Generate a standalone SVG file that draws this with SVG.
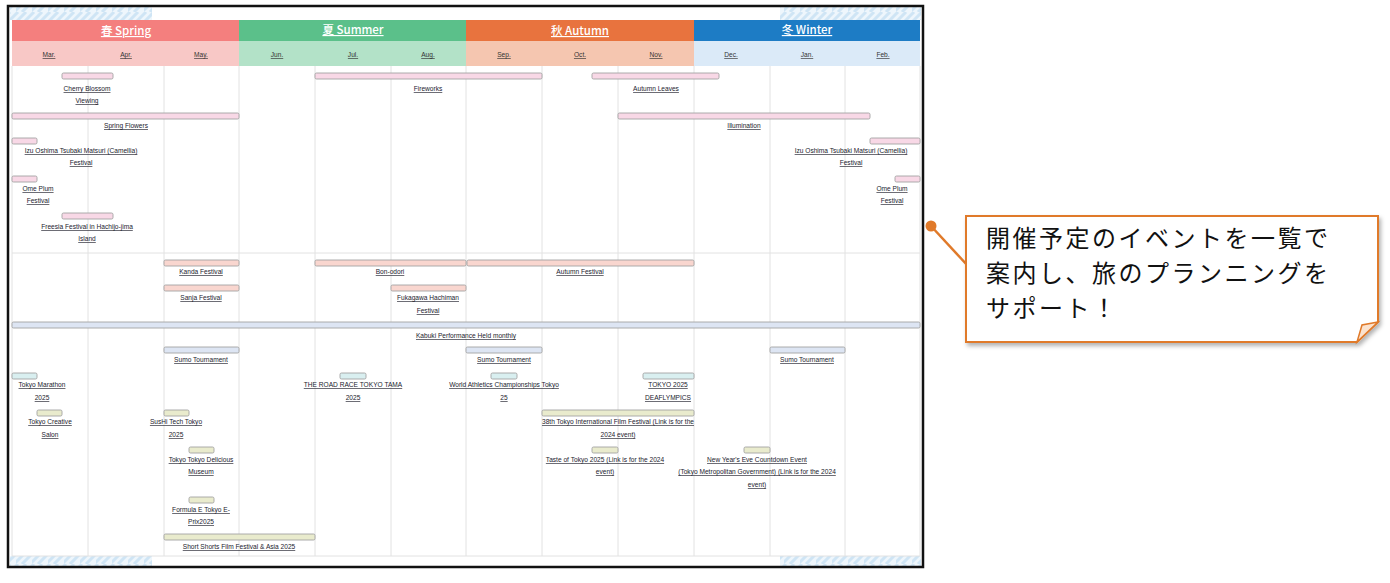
<svg xmlns="http://www.w3.org/2000/svg" width="1390" height="583" viewBox="0 0 1390 583">
<style>
.t{font-family:"Liberation Sans",Arial,sans-serif;font-size:6.6px;fill:#22222e;text-anchor:middle;text-decoration:underline}
.m{font-family:"Liberation Sans",Arial,sans-serif;font-size:6.6px;fill:#333333;text-anchor:middle;text-decoration:underline}
.s{font-family:"Noto Sans CJK JP","Liberation Sans",sans-serif;font-size:11.5px;fill:#ffffff;text-anchor:middle;text-decoration:underline;font-weight:500}
.g{stroke:#e2e2e2;stroke-width:1}
.b{stroke:#a3a3a3;stroke-width:0.9}
.pk{fill:#f8d8e6}
.sa{fill:#f9d6cf}
.bl{fill:#dde5f3}
.cy{fill:#d9eff0}
.be{fill:#e9ebcd}
.ct{font-family:"Noto Sans CJK JP","Noto Sans CJK SC",sans-serif;font-size:24px;letter-spacing:2.5px;fill:#111}
</style>
<defs>
<pattern id="wave" width="16" height="12" patternUnits="userSpaceOnUse">
<rect width="16" height="12" fill="#eef6fc"/>
<path d="M-2,12 L10,0 M6,12 L18,0 M-10,12 L2,0" stroke="#cfe5f5" stroke-width="3"/>
</pattern>
<filter id="sh" x="-5%" y="-5%" width="115%" height="125%">
<feDropShadow dx="2" dy="3" stdDeviation="2" flood-color="#000" flood-opacity="0.3"/>
</filter>
</defs>
<rect width="1390" height="583" fill="#ffffff"/>

<g id="chart">
<rect x="8" y="6" width="915" height="561" fill="#ffffff"/>
<rect x="10" y="7" width="142" height="13" fill="url(#wave)"/>
<rect x="780" y="7" width="141" height="13" fill="url(#wave)"/>
<rect x="10" y="556" width="142" height="10" fill="url(#wave)"/>
<rect x="780" y="556" width="141" height="10" fill="url(#wave)"/>
<g id="seasons">
<rect x="12" y="20" width="227" height="21" fill="#f47f7e"/>
<rect x="239" y="20" width="227" height="21" fill="#5bc08a"/>
<rect x="466" y="20" width="228" height="21" fill="#e8733e"/>
<rect x="694" y="20" width="226" height="21" fill="#1d7cc5"/>
<text class="s" x="126" y="35">春 Spring</text>
<text class="s" x="353" y="34">夏 Summer</text>
<text class="s" x="580" y="35">秋 Autumn</text>
<text class="s" x="807" y="34">冬 Winter</text>
</g>
<g id="months">
<rect x="12" y="41" width="227" height="25" fill="#f8c8c6"/>
<rect x="239" y="41" width="227" height="25" fill="#b3e2c8"/>
<rect x="466" y="41" width="228" height="25" fill="#f5c6b0"/>
<rect x="694" y="41" width="226" height="25" fill="#dbeaf8"/>
<text class="m" x="49" y="57">Mar.</text>
<text class="m" x="126" y="57">Apr.</text>
<text class="m" x="201" y="57">May.</text>
<text class="m" x="277" y="57">Jun.</text>
<text class="m" x="353" y="57">Jul.</text>
<text class="m" x="428" y="57">Aug.</text>
<text class="m" x="504" y="57">Sep.</text>
<text class="m" x="580" y="57">Oct.</text>
<text class="m" x="656" y="57">Nov.</text>
<text class="m" x="731" y="57">Dec.</text>
<text class="m" x="807" y="57">Jan.</text>
<text class="m" x="883" y="57">Feb.</text>
</g>
<g id="grid">
<line class="g" x1="12" y1="66" x2="12" y2="556"/>
<line class="g" x1="88" y1="66" x2="88" y2="556"/>
<line class="g" x1="164" y1="66" x2="164" y2="556"/>
<line class="g" x1="239" y1="66" x2="239" y2="556"/>
<line class="g" x1="315" y1="66" x2="315" y2="556"/>
<line class="g" x1="391" y1="66" x2="391" y2="556"/>
<line class="g" x1="466" y1="66" x2="466" y2="556"/>
<line class="g" x1="542" y1="66" x2="542" y2="556"/>
<line class="g" x1="618" y1="66" x2="618" y2="556"/>
<line class="g" x1="694" y1="66" x2="694" y2="556"/>
<line class="g" x1="770" y1="66" x2="770" y2="556"/>
<line class="g" x1="845" y1="66" x2="845" y2="556"/>
<line class="g" x1="920" y1="66" x2="920" y2="556"/>
<line class="g" x1="12" y1="253" x2="920" y2="253"/>
<line class="g" x1="12" y1="556" x2="920" y2="556"/>
</g>
<rect x="8" y="6" width="915" height="561" fill="none" stroke="#111" stroke-width="2.5"/>
</g>

<g id="ev-cherry"><rect class="pk b" x="62" y="73" width="51" height="6" rx="1.5"/><text class="t" x="87" y="91">Cherry Blossom</text><text class="t" x="87" y="103">Viewing</text></g>
<g id="ev-fireworks"><rect class="pk b" x="315" y="73" width="227" height="6" rx="1.5"/><text class="t" x="428" y="91">Fireworks</text></g>
<g id="ev-autumn-leaves"><rect class="pk b" x="592" y="73" width="127" height="6" rx="1.5"/><text class="t" x="656" y="91">Autumn Leaves</text></g>
<g id="ev-spring-flowers"><rect class="pk b" x="12" y="113" width="227" height="6" rx="1.5"/><text class="t" x="126" y="128">Spring Flowers</text></g>
<g id="ev-illumination"><rect class="pk b" x="618" y="113" width="252" height="6" rx="1.5"/><text class="t" x="744" y="128">Illumination</text></g>
<g id="ev-izu-1"><rect class="pk b" x="12" y="138" width="25" height="6" rx="1.5"/><text class="t" x="81" y="153">Izu Oshima Tsubaki Matsuri (Camellia)</text><text class="t" x="81" y="165">Festival</text></g>
<g id="ev-izu-2"><rect class="pk b" x="870" y="138" width="50" height="6" rx="1.5"/><text class="t" x="851" y="153">Izu Oshima Tsubaki Matsuri (Camellia)</text><text class="t" x="851" y="165">Festival</text></g>
<g id="ev-ome-1"><rect class="pk b" x="12" y="176" width="25" height="6" rx="1.5"/><text class="t" x="38" y="191">Ome Plum</text><text class="t" x="38" y="203">Festival</text></g>
<g id="ev-ome-2"><rect class="pk b" x="895" y="176" width="25" height="6" rx="1.5"/><text class="t" x="892" y="191">Ome Plum</text><text class="t" x="892" y="203">Festival</text></g>
<g id="ev-freesia"><rect class="pk b" x="62" y="213" width="51" height="6" rx="1.5"/><text class="t" x="87" y="229">Freesia Festival in Hachijo-jima</text><text class="t" x="87" y="241">Island</text></g>

<g id="ev-kanda"><rect class="sa b" x="164" y="260" width="75" height="6" rx="1.5"/><text class="t" x="201" y="274">Kanda Festival</text></g>
<g id="ev-bon"><rect class="sa b" x="315" y="260" width="151" height="6" rx="1.5"/><text class="t" x="390" y="274">Bon-odori</text></g>
<g id="ev-autumn-fest"><rect class="sa b" x="467" y="260" width="227" height="6" rx="1.5"/><text class="t" x="580" y="274">Autumn Festival</text></g>
<g id="ev-sanja"><rect class="sa b" x="164" y="285" width="75" height="6" rx="1.5"/><text class="t" x="201" y="300">Sanja Festival</text></g>
<g id="ev-fukagawa"><rect class="sa b" x="391" y="285" width="75" height="6" rx="1.5"/><text class="t" x="428" y="300">Fukagawa Hachiman</text><text class="t" x="428" y="313">Festival</text></g>

<g id="ev-kabuki"><rect class="bl b" x="12" y="322" width="908" height="6" rx="1.5"/><text class="t" x="466" y="338">Kabuki Performance Held monthly</text></g>
<g id="ev-sumo-1"><rect class="bl b" x="164" y="347" width="75" height="6" rx="1.5"/><text class="t" x="201" y="362">Sumo Tournament</text></g>
<g id="ev-sumo-2"><rect class="bl b" x="466" y="347" width="76" height="6" rx="1.5"/><text class="t" x="504" y="362">Sumo Tournament</text></g>
<g id="ev-sumo-3"><rect class="bl b" x="770" y="347" width="75" height="6" rx="1.5"/><text class="t" x="807" y="362">Sumo Tournament</text></g>
<g id="ev-marathon"><rect class="cy b" x="12" y="373" width="25" height="6" rx="1.5"/><text class="t" x="42" y="387">Tokyo Marathon</text><text class="t" x="42" y="400">2025</text></g>
<g id="ev-roadrace"><rect class="cy b" x="340" y="373" width="26" height="6" rx="1.5"/><text class="t" x="353" y="387">THE ROAD RACE TOKYO TAMA</text><text class="t" x="353" y="400">2025</text></g>
<g id="ev-athletics"><rect class="cy b" x="491" y="373" width="26" height="6" rx="1.5"/><text class="t" x="504" y="387">World Athletics Championships Tokyo</text><text class="t" x="504" y="400">25</text></g>
<g id="ev-deaflympics"><rect class="cy b" x="643" y="373" width="51" height="6" rx="1.5"/><text class="t" x="668" y="387">TOKYO 2025</text><text class="t" x="668" y="400">DEAFLYMPICS</text></g>
<g id="ev-creative"><rect class="be b" x="37" y="410" width="25" height="6" rx="1.5"/><text class="t" x="50" y="424">Tokyo Creative</text><text class="t" x="50" y="437">Salon</text></g>
<g id="ev-sushitech"><rect class="be b" x="164" y="410" width="25" height="6" rx="1.5"/><text class="t" x="176" y="424">SusHi Tech Tokyo</text><text class="t" x="176" y="437">2025</text></g>
<g id="ev-tiff"><rect class="be b" x="542" y="410" width="152" height="6" rx="1.5"/><text class="t" x="618" y="424">38th Tokyo International Film Festival (Link is for the</text><text class="t" x="618" y="437">2024 event)</text></g>
<g id="ev-delicious"><rect class="be b" x="189" y="447" width="25" height="6" rx="1.5"/><text class="t" x="201" y="462">Tokyo Tokyo Delicious</text><text class="t" x="201" y="474">Museum</text></g>
<g id="ev-taste"><rect class="be b" x="592" y="447" width="26" height="6" rx="1.5"/><text class="t" x="605" y="462">Taste of Tokyo 2025 (Link is for the 2024</text><text class="t" x="605" y="474">event)</text></g>
<g id="ev-newyear"><rect class="be b" x="744" y="447" width="26" height="6" rx="1.5"/><text class="t" x="757" y="462">New Year's Eve Countdown Event</text><text class="t" x="757" y="474">(Tokyo Metropolitan Government) (Link is for the 2024</text><text class="t" x="757" y="487">event)</text></g>
<g id="ev-formulae"><rect class="be b" x="189" y="497" width="25" height="6" rx="1.5"/><text class="t" x="201" y="512">Formula E Tokyo E-</text><text class="t" x="201" y="524">Prix2025</text></g>
<g id="ev-shortshorts"><rect class="be b" x="164" y="534" width="151" height="6" rx="1.5"/><text class="t" x="239" y="549">Short Shorts Film Festival &amp; Asia 2025</text></g>

<g id="connectors">
<line x1="931" y1="226" x2="968" y2="266" stroke="#e07a2a" stroke-width="2.5"/>
<circle cx="931" cy="226" r="5.5" fill="#e07a2a"/>
</g>

<g id="callout">
<path d="M966,216 H1378 V322 L1357,342 H966 Z" fill="#ffffff" stroke="#e07a2a" stroke-width="2" filter="url(#sh)"/>
<path d="M1378,322 L1362,325 L1357,342 Z" fill="#fbe3cf" stroke="#e07a2a" stroke-width="1.5"/>
<text class="ct" x="986" y="247">開催予定のイベントを一覧で</text>
<text class="ct" x="986" y="282">案内し、旅のプランニングを</text>
<text class="ct" x="986" y="317">サポート！</text>
</g>
</svg>
